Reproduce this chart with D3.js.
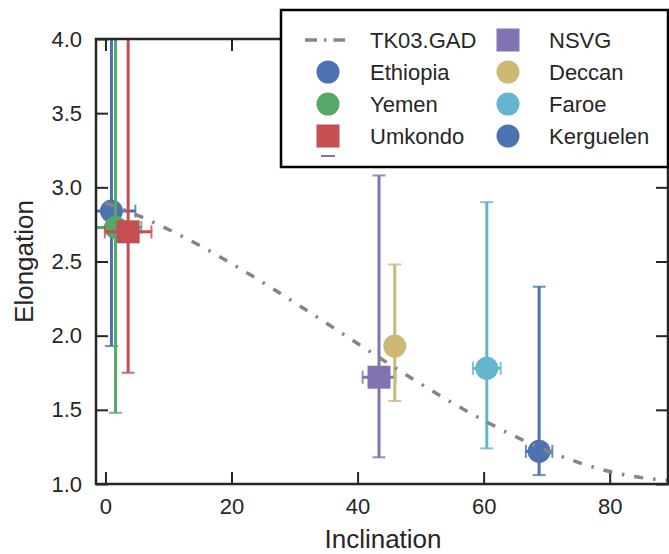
<!DOCTYPE html>
<html>
<head>
<meta charset="utf-8">
<script src="https://cdn.jsdelivr.net/npm/d3@7"></script>
<style>
  body { margin: 0; background: #fff; }
  svg { font-family: "Liberation Sans", Arial, Helvetica, sans-serif; }
</style>
</head>
<body>
<svg id="chart" width="669" height="554"></svg>
<script>
// site values
const sites = ["Ethiopia", "Yemen", "Umkondo", "NSVG", "Deccan", "Faroe", "Kerguelen"];
const incl = [0.95, 1.6, 3.6, 43.4, 45.9, 60.5, 68.8];
const inclErr = [3.8, 4.1, 3.7, 2.6, 1.0, 2.2, 2.1];
const elong = [2.84, 2.73, 2.70, 1.72, 1.93, 1.78, 1.22];
const elongLow = [1.93, 1.48, 1.75, 1.18, 1.56, 1.24, 1.06];
const elongHigh = [4.6, 4.8, 4.5, 3.08, 2.48, 2.90, 2.33];
const markers = ["circle", "circle", "square", "square", "circle", "circle", "circle"];
const colors = ["#4C72B0", "#55A868", "#C44E52", "#8172B2", "#CCB974", "#64B5CD", "#4C72B0"];

// TK03.GAD elongation vs inclination
const curveI = [0, 5, 10, 15, 20, 25, 30, 35, 40, 45, 50, 55, 60, 65, 70, 75, 80, 85, 90];
const curveE = [2.895, 2.813, 2.716, 2.607, 2.486, 2.358, 2.223, 2.086, 1.947, 1.809,
  1.676, 1.548, 1.429, 1.321, 1.225, 1.146, 1.084, 1.043, 1.024];

const xTicks = [0, 20, 40, 60, 80];
const yTicks = [1.0, 1.5, 2.0, 2.5, 3.0, 3.5, 4.0];

const svg = d3.select("#chart");
const ink = "#262626";
const pLeft = 96, pRight = 668, pTop = 39, pBottom = 484;

const x = d3.scaleLinear().domain([-1.5, 89.25]).range([pLeft, pRight]);
const y = d3.scaleLinear().domain([1, 4]).range([pBottom, pTop]);

svg.append("defs").append("clipPath").attr("id", "plotClip")
  .append("rect")
  .attr("x", pLeft).attr("y", pTop)
  .attr("width", pRight - pLeft).attr("height", pBottom - pTop);

// axes, ticks pointing inward on all four sides
function styleAxis(g) {
  g.select(".domain").remove();
  g.selectAll(".tick line").attr("stroke", ink).attr("stroke-width", 2);
  g.selectAll(".tick text").attr("fill", ink).style("font-size", "22px");
}

svg.append("g")
  .attr("transform", `translate(0,${pBottom})`)
  .call(d3.axisBottom(x).tickValues(xTicks).tickSizeInner(-12).tickSizeOuter(0).tickPadding(14)
    .tickFormat(d3.format("d")))
  .call(styleAxis);

svg.append("g")
  .attr("transform", `translate(0,${pTop})`)
  .call(d3.axisTop(x).tickValues(xTicks).tickSizeInner(-12).tickSizeOuter(0).tickFormat(""))
  .call(styleAxis);

svg.append("g")
  .attr("transform", `translate(${pLeft},0)`)
  .call(d3.axisLeft(y).tickValues(yTicks).tickSizeInner(-12).tickSizeOuter(0).tickPadding(14)
    .tickFormat(d3.format(".1f")))
  .call(styleAxis);

svg.append("g")
  .attr("transform", `translate(${pRight},0)`)
  .call(d3.axisRight(y).tickValues(yTicks).tickSizeInner(-12).tickSizeOuter(0).tickFormat(""))
  .call(styleAxis);

// axis titles
svg.append("text")
  .attr("x", (pLeft + pRight) / 2 + 1).attr("y", 548)
  .attr("text-anchor", "middle").attr("fill", ink)
  .style("font-size", "26px")
  .text("Inclination");

svg.append("text")
  .attr("transform", `translate(33,${(pTop + pBottom) / 2}) rotate(-90)`)
  .attr("text-anchor", "middle").attr("fill", ink)
  .style("font-size", "26px")
  .text("Elongation");

// data: error bars + markers
const plot = svg.append("g").attr("clip-path", "url(#plotClip)");
const cap = 6.5;

function drawMarker(g, shape, cx, cy, color) {
  if (shape === "circle") {
    g.append("circle").attr("cx", cx).attr("cy", cy).attr("r", 11.5).attr("fill", color);
  } else {
    g.append("rect").attr("x", cx - 11.5).attr("y", cy - 11.5)
      .attr("width", 23).attr("height", 23).attr("fill", color);
  }
}

sites.forEach((s, i) => {
  const g = plot.append("g");
  const c = colors[i];
  const cx = x(incl[i]), cy = y(elong[i]);
  const x0 = x(incl[i] - inclErr[i]), x1 = x(incl[i] + inclErr[i]);
  const y0 = y(elongLow[i]), y1 = y(elongHigh[i]);

  g.append("line").attr("x1", cx).attr("x2", cx).attr("y1", y0).attr("y2", y1)
    .attr("stroke", c).attr("stroke-width", 3);
  g.append("line").attr("x1", x0).attr("x2", x1).attr("y1", cy).attr("y2", cy)
    .attr("stroke", c).attr("stroke-width", 3);
  [y0, y1].forEach(yy => g.append("line")
    .attr("x1", cx - cap).attr("x2", cx + cap).attr("y1", yy).attr("y2", yy)
    .attr("stroke", c).attr("stroke-width", 2).attr("opacity", 0.8));
  [x0, x1].forEach(xx => g.append("line")
    .attr("x1", xx).attr("x2", xx).attr("y1", cy - cap).attr("y2", cy + cap)
    .attr("stroke", c).attr("stroke-width", 2).attr("opacity", 0.8));

  drawMarker(g, markers[i], cx, cy, c);
});

// TK03.GAD curve
const line = d3.line().x((d, i) => x(curveI[i])).y(d => y(d)).curve(d3.curveMonotoneX);
plot.append("path")
  .attr("d", line(curveE))
  .attr("fill", "none")
  .attr("stroke", "#858585")
  .attr("stroke-width", 3.5)
  .attr("stroke-dasharray", "9,10,2.5,10");

// frame
svg.append("rect")
  .attr("x", pLeft).attr("y", pTop)
  .attr("width", pRight - pLeft).attr("height", pBottom - pTop)
  .attr("fill", "none").attr("stroke", ink).attr("stroke-width", 2.5);

// legend
const legend = svg.append("g");
legend.append("rect")
  .attr("x", 281).attr("y", 10).attr("width", 387).attr("height", 157)
  .attr("fill", "#fff").attr("stroke", "#000").attr("stroke-width", 2.5);

const rowY = [40, 72, 104, 136];
const colHandle = [328, 508];
const colText = [370, 549];

legend.append("line")
  .attr("x1", 305).attr("x2", 345).attr("y1", rowY[0]).attr("y2", rowY[0])
  .attr("stroke", "#858585").attr("stroke-width", 3.5)
  .attr("stroke-dasharray", "12,7,2.5,7");
legend.append("text")
  .attr("x", colText[0]).attr("y", rowY[0] + 8)
  .attr("fill", ink).style("font-size", "22px")
  .text("TK03.GAD");

sites.forEach((s, i) => {
  const slot = i + 1;
  const col = slot < 4 ? 0 : 1;
  const row = slot < 4 ? slot : slot - 4;
  drawMarker(legend, markers[i], colHandle[col], rowY[row], colors[i]);
  legend.append("text")
    .attr("x", colText[col]).attr("y", rowY[row] + 8)
    .attr("fill", ink).style("font-size", "22px")
    .text(s);
});

// stray error-bar stub under the first legend column
legend.append("line")
  .attr("x1", 321).attr("x2", 335).attr("y1", 156).attr("y2", 156)
  .attr("stroke", colors[3]).attr("stroke-width", 2);
</script>
</body>
</html>
